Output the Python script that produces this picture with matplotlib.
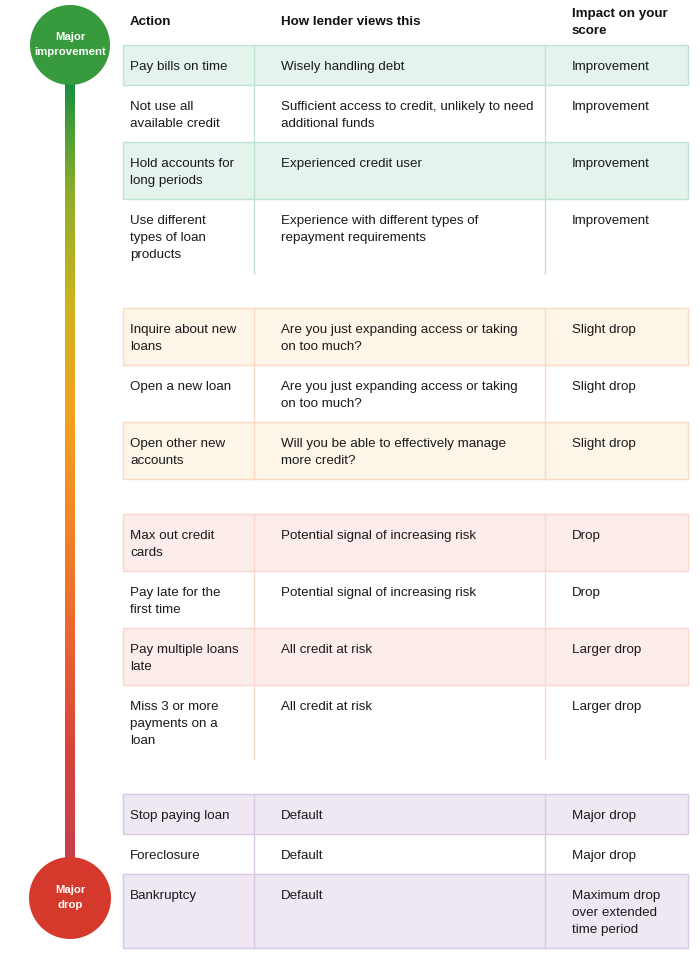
import numpy as np
import matplotlib
matplotlib.use("Agg")
import matplotlib.pyplot as plt
from matplotlib.patches import Rectangle, Circle
from matplotlib.colors import LinearSegmentedColormap

plt.rcParams['font.family'] = ['Liberation Sans', 'DejaVu Sans']

HEADERS = ["Action", "How lender views this", "Impact on your\nscore"]

ACTIONS = [
    ["Pay bills on time", "Not use all\navailable credit", "Hold accounts for\nlong periods",
     "Use different\ntypes of loan\nproducts"],
    ["Inquire about new\nloans", "Open a new loan", "Open other new\naccounts"],
    ["Max out credit\ncards", "Pay late for the\nfirst time", "Pay multiple loans\nlate",
     "Miss 3 or more\npayments on a\nloan"],
    ["Stop paying loan", "Foreclosure", "Bankruptcy"],
]
VIEWS = [
    ["Wisely handling debt", "Sufficient access to credit, unlikely to need\nadditional funds",
     "Experienced credit user", "Experience with different types of\nrepayment requirements"],
    ["Are you just expanding access or taking\non too much?", "Are you just expanding access or taking\non too much?",
     "Will you be able to effectively manage\nmore credit?"],
    ["Potential signal of increasing risk", "Potential signal of increasing risk",
     "All credit at risk", "All credit at risk"],
    ["Default", "Default", "Default"],
]
IMPACTS = [
    ["Improvement", "Improvement", "Improvement", "Improvement"],
    ["Slight drop", "Slight drop", "Slight drop"],
    ["Drop", "Drop", "Larger drop", "Larger drop"],
    ["Major drop", "Major drop", "Maximum drop\nover extended\ntime period"],
]
TOP_LABEL = "Major\nimprovement"
BOTTOM_LABEL = "Major\ndrop"

# styling per group: (fill, line)
GROUP_STYLE = [
    ("#e4f3ec", "#bfe2d2"),
    ("#fdf5e8", "#fbd9c3"),
    ("#fcecea", "#f9d6cc"),
    ("#efe8f3", "#dac8e4"),
]
GROUP_TOPS = [45, 308, 514, 794]

X0, X1, X2, X3 = 123, 254, 545, 688
TX = [130, 281, 572]
FS = 9.6

fig = plt.figure(figsize=(7.0, 9.57), dpi=100)
ax = fig.add_axes([0, 0, 1, 1])
ax.set_xlim(0, 700)
ax.set_ylim(957, 0)
ax.axis('off')

# header
for tx, h in zip(TX, HEADERS):
    lines = h.split("\n")
    y0 = 25 if len(lines) == 1 else 17
    for i, ln in enumerate(lines):
        ax.text(tx, y0 + 17 * i, ln, fontsize=FS, fontweight='bold', va='baseline', ha='left', color='#111111')

# table groups
for g in range(len(ACTIONS)):
    fill, line = GROUP_STYLE[g]
    y = GROUP_TOPS[g]
    top = y
    for r in range(len(ACTIONS[g])):
        cells = [ACTIONS[g][r], VIEWS[g][r], IMPACTS[g][r]]
        n = max(len(c.split("\n")) for c in cells)
        h = 23 + 17 * n
        if r % 2 == 0:
            ax.add_patch(Rectangle((X0, y), X3 - X0, h, facecolor=fill, edgecolor=line, lw=1.0, zorder=1))
        for tx, c in zip(TX, cells):
            for i, ln in enumerate(c.split("\n")):
                ax.text(tx, y + 25 + 17 * i, ln, fontsize=FS, va='baseline', ha='left', color='#1a1a1a', zorder=3)
        y += h
    for xv in (X1, X2):
        ax.plot([xv, xv], [top, y], color=line, lw=1.0, zorder=2)

# gradient bar
cmap = LinearSegmentedColormap.from_list(
    "bar", ["#17903f", "#8fae2a", "#cdb31e", "#f4a21e", "#f38426", "#ec6530", "#d8443a", "#c8404c"])
grad = np.linspace(0, 1, 256).reshape(-1, 1)
ax.imshow(grad, cmap=cmap, extent=[65, 75, 860, 80], aspect='auto', zorder=1, interpolation='bilinear')

ax.add_patch(Circle((70, 45), 40, facecolor="#379a3d", edgecolor='none', zorder=2))
ax.add_patch(Circle((70, 898), 41, facecolor="#d5392b", edgecolor='none', zorder=2))
for i, ln in enumerate(TOP_LABEL.split("\n")):
    ax.text(70, 37 + 15 * i, ln, fontsize=8.2, fontweight='bold', color='white', ha='center', va='center', zorder=3)
for i, ln in enumerate(BOTTOM_LABEL.split("\n")):
    ax.text(70, 890 + 15 * i, ln, fontsize=8.2, fontweight='bold', color='white', ha='center', va='center', zorder=3)

ax.set_xlim(0, 700)
ax.set_ylim(957, 0)
fig.savefig("out.png", dpi=100)
